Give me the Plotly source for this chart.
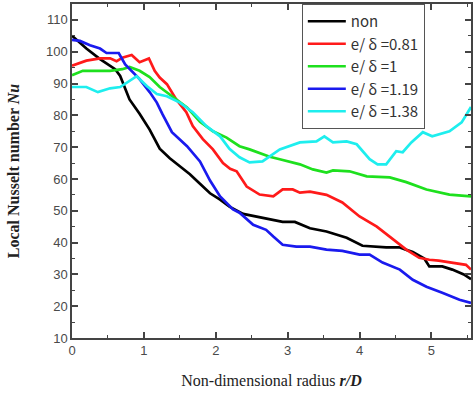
import plotly.graph_objects as go

# ---- data ----
x_non = [0, 0.1, 0.2, 0.39, 0.6, 0.67, 0.8, 0.94, 1.08, 1.22, 1.36, 1.5, 1.64, 1.78, 1.92, 2.06, 2.19, 2.38,
         2.6, 2.93, 3.1, 3.31, 3.54, 3.82, 4.04, 4.37, 4.55, 4.74, 4.9, 4.97, 5.15, 5.29, 5.45, 5.55]
y_non = [105, 103, 101, 97.7, 94.5, 92.4, 85, 80.5, 75.5, 69.5, 66.5, 64, 61.5, 58.5, 55.5, 53.5, 51.3, 49,
         48, 46.5, 46.5, 44.5, 43.5, 41.5, 39, 38.5, 38.5, 37, 35, 32.5, 32.5, 31.5, 30, 28.5]

x_081 = [0, 0.2, 0.39, 0.53, 0.62, 0.71, 0.83, 0.94, 1.07, 1.15, 1.22, 1.32, 1.45, 1.59, 1.68, 1.82, 1.96,
         2.1, 2.2, 2.29, 2.43, 2.61, 2.8, 2.93, 3.07, 3.17, 3.31, 3.54, 3.76, 4.0, 4.24, 4.46, 4.65, 4.83,
         4.97, 5.1, 5.29, 5.48, 5.55]
y_081 = [95.6, 97.2, 97.9, 97.9, 97, 98.2, 99, 96.7, 97.9, 94, 91.9, 89.8, 85, 81, 76.6, 72.5, 69.3,
         65, 63.2, 62.4, 57.6, 55.1, 54.5, 56.7, 56.7, 55.7, 56, 55, 52.6, 48.2, 45, 41, 37.8, 35.2,
         34.6, 34.3, 33.6, 33, 31.5]

x_1 = [0, 0.15, 0.35, 0.53, 0.7, 0.8, 0.94, 1.08, 1.22, 1.4, 1.6, 1.78, 1.96, 2.15, 2.33, 2.47, 2.75, 2.89,
       3.17, 3.35, 3.54, 3.63, 3.86, 4.1, 4.42, 4.65, 4.93, 5.25, 5.55]
y_1 = [92.6, 94, 94, 94, 94.5, 95.2, 94, 92, 88.9, 86, 82.5, 78, 75, 73, 70.3, 69.3, 67, 66.2,
       64.6, 63, 62, 62.7, 62.4, 60.8, 60.5, 59, 56.7, 55.1, 54.5]

x_119 = [0, 0.11, 0.25, 0.39, 0.48, 0.6, 0.65, 0.74, 0.94, 1.08, 1.18, 1.26, 1.39, 1.6, 1.78, 1.92, 2.06,
         2.24, 2.33, 2.52, 2.7, 2.8, 2.93, 3.12, 3.31, 3.54, 3.76, 4.0, 4.14, 4.32, 4.56, 4.74, 4.93, 5.15,
         5.39, 5.55]
y_119 = [103.7, 103.4, 102, 101, 99.6, 99.6, 99.6, 96, 91.4, 87.3, 84, 80.3, 74.7, 70.3, 65.5, 59.5, 54.5,
         50.4, 49.4, 45.6, 44, 41.9, 39.3, 38.7, 38.7, 37.8, 37.4, 36.2, 36.2, 33.7, 31.5, 28.3, 26.1, 24.2,
         22, 21]

x_138 = [0, 0.2, 0.36, 0.53, 0.67, 0.83, 0.9, 1.04, 1.18, 1.32, 1.5, 1.68, 1.87, 2.06, 2.19, 2.33, 2.47,
         2.65, 2.89, 3.17, 3.4, 3.51, 3.63, 3.82, 3.96, 4.14, 4.25, 4.37, 4.51, 4.6, 4.72, 4.88, 5.01, 5.25,
         5.42, 5.55]
y_138 = [88.9, 88.9, 87.3, 88.5, 88.9, 91.4, 92.3, 89.2, 86.7, 86, 84, 81, 76.6, 73.4, 69.5, 66.8, 65.2,
         65.5, 69.3, 71.5, 71.8, 73.4, 71.5, 71.8, 70.9, 66.2, 64.6, 64.6, 68.7, 68.4, 71.5, 74.7, 73.4, 75,
         77.8, 82.6]

series_names = ["non", "e/ δ =0.81", "e/ δ =1", "e/ δ =1.19", "e/ δ =1.38"]
series_x = [x_non, x_081, x_1, x_119, x_138]
series_y = [y_non, y_081, y_1, y_119, y_138]
series_colors = ["#000000", "#ff1a1a", "#1ee01e", "#1a1aee", "#1eeeee"]

fig = go.Figure()
for name, xs, ys, c in zip(series_names, series_x, series_y, series_colors):
    fig.add_trace(go.Scatter(x=xs, y=ys, mode="lines", name=name,
                             line=dict(color=c, width=2.7)))

axis_common = dict(
    showline=True, linecolor="#444444", linewidth=1.5, mirror="allticks",
    ticks="inside", ticklen=6, tickwidth=1.5, tickcolor="#444444",
    showgrid=False, zeroline=False, automargin=False,
    tickfont=dict(family="Liberation Sans Narrow, Liberation Sans, Arial", size=13, color="#4a4a4a"),
)

fig.update_layout(
    width=473, height=401,
    margin=dict(l=72, r=2, t=4, b=63),
    plot_bgcolor="white", paper_bgcolor="white",
    xaxis=dict(range=[0, 5.55], tick0=0, dtick=1,
               minor=dict(ticks="inside", ticklen=3, dtick=0.5, tickcolor="#444444", tickwidth=1.2),
               title=dict(text="Non-dimensional radius <b><i>r/D</i></b>",
                          font=dict(family="Liberation Serif, Times New Roman", size=16, color="#222222"),
                          standoff=17),
               **axis_common),
    yaxis=dict(range=[10, 115], tick0=10, dtick=10,
               minor=dict(ticks="inside", ticklen=3, dtick=5, tickcolor="#444444", tickwidth=1.2),
               title=dict(text="<b>Local Nusselt number <i>Nu</i></b>",
                          font=dict(family="Liberation Serif, Times New Roman", size=16, color="#222222"),
                          standoff=22),
               **axis_common),
    legend=dict(x=0.576, y=1.0, xanchor="left", yanchor="top",
                bordercolor="#555555", borderwidth=1, bgcolor="white",
                font=dict(family="Noto Sans CJK JP, Liberation Sans", size=15, color="#333333"),
                tracegroupgap=0, itemwidth=38),
    showlegend=True,
)

fig.write_html("out.html", config={"displayModeBar": False},
               post_script="document.body.style.margin='0';document.body.style.padding='0';")
